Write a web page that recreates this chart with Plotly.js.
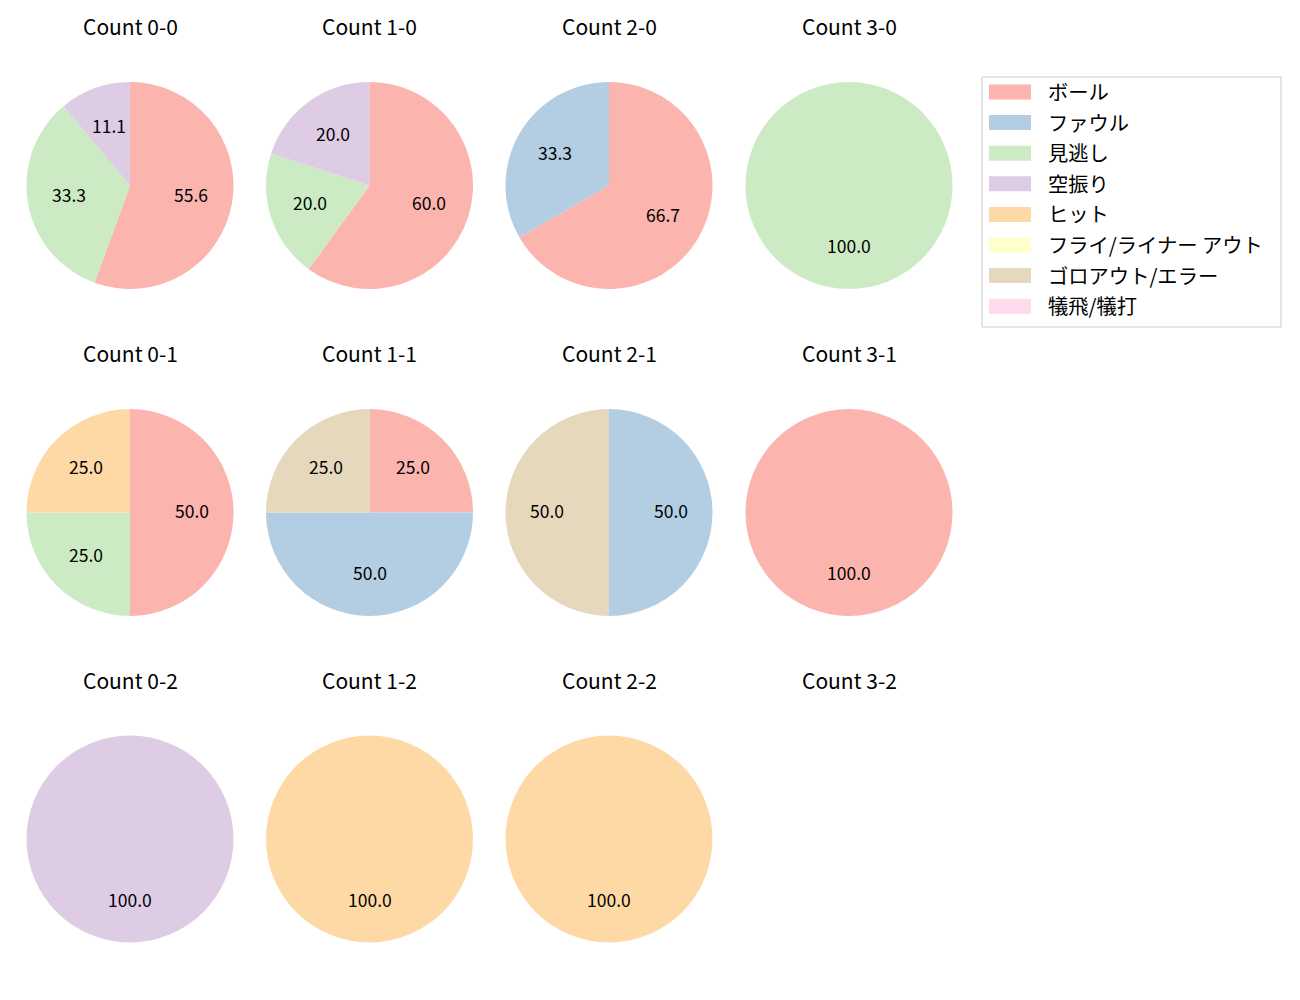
<!DOCTYPE html>
<html>
<head>
<meta charset="utf-8">
<script src="https://cdn.plot.ly/plotly-3.0.1.min.js"></script>
<style>
  body { margin: 0; background: #fff; }
  #chart { width: 1300px; height: 1000px; }
</style>
</head>
<body>
<div id="chart"></div>
<script>
// categories and colours (matplotlib Pastel1)
const categories = ['ボール', 'ファウル', '見逃し', '空振り', 'ヒット', 'フライ/ライナー アウト', 'ゴロアウト/エラー', '犠飛/犠打']
const colors = ['#fbb4ae', '#b3cde3', '#ccebc5', '#decbe4', '#fed9a6', '#ffffcc', '#e5d8bd', '#fddaec']

// pitch counts per ball-strike count, same order as categories
const countNames = ['0-0', '1-0', '2-0', '3-0', '0-1', '1-1', '2-1', '3-1', '0-2', '1-2', '2-2', '3-2']
const c00 = [5, 0, 3, 1, 0, 0, 0, 0]
const c10 = [3, 0, 1, 1, 0, 0, 0, 0]
const c20 = [2, 1, 0, 0, 0, 0, 0, 0]
const c30 = [0, 0, 1, 0, 0, 0, 0, 0]
const c01 = [2, 0, 1, 0, 1, 0, 0, 0]
const c11 = [1, 2, 0, 0, 0, 0, 1, 0]
const c21 = [0, 1, 0, 0, 0, 0, 1, 0]
const c31 = [1, 0, 0, 0, 0, 0, 0, 0]
const c02 = [0, 0, 0, 1, 0, 0, 0, 0]
const c12 = [0, 0, 0, 0, 1, 0, 0, 0]
const c22 = [0, 0, 0, 0, 1, 0, 0, 0]
const c32 = [0, 0, 0, 0, 0, 0, 0, 0]
const countValues = [c00, c10, c20, c30, c01, c11, c21, c31, c02, c12, c22, c32]

// layout of the grid, in pixels
const W = 1300, H = 1000
const colX = [130, 369.5, 609, 849]
const rowY = [185.5, 512.5, 839]
const R = 103.5

const FONT = '"Noto Sans CJK JP", "Noto Sans", sans-serif'

let traces = []
let annotations = []

countNames.forEach(function (name, i) {
  let cx = colX[i % 4]
  let cy = rowY[Math.floor(i / 4)]
  let vals = countValues[i]

  annotations.push({
    text: 'Count ' + name,
    xref: 'paper', yref: 'paper',
    x: cx / W, y: 1 - (cy - 159) / H,
    xanchor: 'center', yanchor: 'middle',
    showarrow: false,
    font: { family: FONT, size: 21, color: '#000' }
  })

  let labels = [], values = [], cols = []
  vals.forEach(function (v, k) {
    if (v > 0) {
      labels.push(categories[k])
      values.push(v)
      cols.push(colors[k])
    }
  })
  if (values.length === 0) return

  traces.push({
    type: 'pie',
    labels: labels,
    values: values,
    sort: false,
    direction: 'clockwise',
    rotation: 0,
    textinfo: 'none',
    hoverinfo: 'label+percent',
    showlegend: false,
    marker: { colors: cols, line: { width: 0 } },
    domain: {
      x: [(cx - R) / W, (cx + R) / W],
      y: [1 - (cy + R) / H, 1 - (cy - R) / H]
    }
  })

  // percentage labels at 0.6 of the radius, like matplotlib autopct
  let total = values.reduce(function (a, b) { return a + b }, 0)
  let cum = 0
  values.forEach(function (v) {
    let frac = v / total
    let mid = (90 - (cum + frac / 2) * 360) * Math.PI / 180
    cum += frac
    annotations.push({
      text: (frac * 100).toFixed(1),
      xref: 'paper', yref: 'paper',
      x: (cx + 0.6 * R * Math.cos(mid)) / W,
      y: 1 - (cy - 2 - 0.6 * R * Math.sin(mid)) / H,
      xanchor: 'center', yanchor: 'middle',
      showarrow: false,
      font: { family: FONT, size: 17.5, color: '#000' }
    })
  })
})

// legend box drawn by hand to keep matplotlib spacing
let shapes = [{
  type: 'rect', xref: 'paper', yref: 'paper',
  x0: 982 / W, x1: 1281 / W, y0: 1 - 327 / H, y1: 1 - 77 / H,
  line: { color: '#cccccc', width: 1 }, fillcolor: 'rgba(255,255,255,0.8)'
}]
categories.forEach(function (cat, k) {
  let yc = 92 + k * 30.6
  shapes.push({
    type: 'rect', xref: 'paper', yref: 'paper',
    x0: 989 / W, x1: 1031 / W, y0: 1 - (yc + 7.5) / H, y1: 1 - (yc - 7.5) / H,
    line: { width: 0 }, fillcolor: colors[k]
  })
  annotations.push({
    text: cat,
    xref: 'paper', yref: 'paper',
    x: 1046 / W, y: 1 - (yc - 1) / H,
    xanchor: 'left', yanchor: 'middle',
    showarrow: false,
    font: { family: FONT, size: 20.3, color: '#000' }
  })
})

Plotly.newPlot('chart', traces, {
  width: W,
  height: H,
  margin: { l: 0, r: 0, t: 0, b: 0 },
  paper_bgcolor: '#fff',
  showlegend: false,
  annotations: annotations,
  shapes: shapes
}, { displayModeBar: false })
</script>
</body>
</html>
